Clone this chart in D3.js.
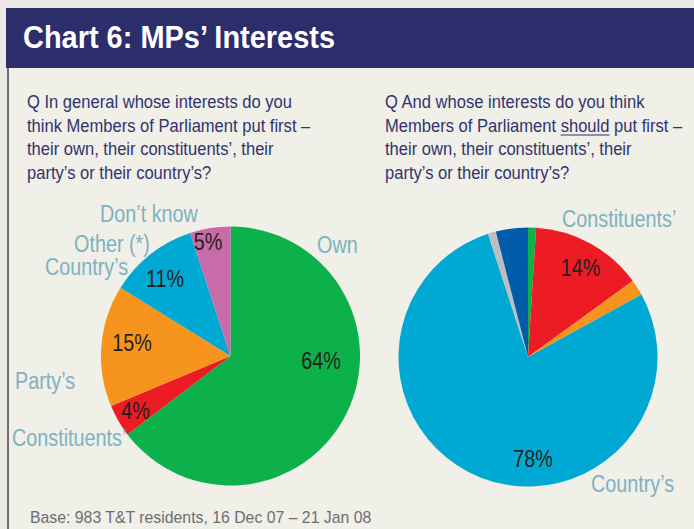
<!DOCTYPE html>
<html>
<head>
<meta charset="utf-8">
<script src="https://cdn.jsdelivr.net/npm/d3@7"></script>
<style>
  html, body { margin: 0; padding: 0; background: #ebeae4; }
  svg { display: block; }
</style>
</head>
<body>
<svg id="chart" width="694" height="529"></svg>
<script>
// ---- data ----
const categories = ["Own", "Constituents\u2019", "Party\u2019s", "Country\u2019s", "Other (*)", "Don\u2019t know"];
const actualValues = [64, 4, 15, 11, 0, 5];   // whose interests MPs put first
const shouldValues = [1, 14, 2, 78, 1, 4];    // whose interests MPs should put first
const actualColors = ["#0db14b", "#ed1c24", "#f7941d", "#00a9d3", "#bcbec0", "#c76ca9"];
const shouldColors = ["#0db14b", "#ed1c24", "#f7941d", "#00a9d3", "#bcbec0", "#005ca9"];
const titleText = "Chart 6: MPs\u2019 Interests";
const questionLeft = [
  "Q In general whose interests do you",
  "think Members of Parliament put first \u2013",
  "their own, their constituents\u2019, their",
  "party\u2019s or their country\u2019s?"
];
const questionRight = [
  "Q And whose interests do you think",
  "Members of Parliament |should| put first \u2013",
  "their own, their constituents\u2019, their",
  "party\u2019s or their country\u2019s?"
];
const baseText = "Base: 983 T&T residents, 16 Dec 07 \u2013 21 Jan 08";

// ---- layout ----
const svg = d3.select("#chart");
const W = 694, H = 529;
const font = "'Liberation Sans', Arial, sans-serif";
const questionColor = "#30336f";
const labelColor = "#7fb1c1";
const pctColor = "#231f20";

// squeeze glyphs horizontally for a condensed look
function condense(sel, k) {
  sel.each(function () {
    const w = this.getComputedTextLength();
    d3.select(this).attr("textLength", w * k).attr("lengthAdjust", "spacingAndGlyphs");
  });
}

// page panel, header band and left rule
svg.append("rect").attr("x", 0).attr("y", 0).attr("width", W).attr("height", H).attr("fill", "#ebeae4");
svg.append("rect").attr("x", 8).attr("y", 68).attr("width", W - 8).attr("height", H - 68).attr("fill", "#f0efe8");
svg.append("rect").attr("x", 6).attr("y", 8).attr("width", W - 6).attr("height", 60).attr("fill", "#2c2e6b");
svg.append("line").attr("x1", 8).attr("x2", 8).attr("y1", 68).attr("y2", H)
  .attr("stroke", "#6e6e6e").attr("stroke-width", 2);

svg.append("text")
  .attr("x", 23).attr("y", 48)
  .attr("font-family", font)
  .attr("font-weight", "bold").attr("font-size", 32)
  .attr("fill", "#ffffff")
  .attr("textLength", 312).attr("lengthAdjust", "spacingAndGlyphs")
  .text(titleText);

// question blocks: each line sits in a horizontally squeezed group;
// the word between bars gets an underline rule
function question(lines, x) {
  lines.forEach((line, i) => {
    const y = 108 + i * 23.5;
    const parts = line.split("|");
    const g = svg.append("g").attr("transform", `translate(${x},${y}) scale(0.895,1)`);
    const t = g.append("text")
      .attr("x", 0).attr("y", 0)
      .attr("font-family", font).attr("font-size", 18.5).attr("fill", questionColor)
      .text(parts.join(""));
    if (parts.length === 3) {
      const node = t.node();
      const a = parts[0].length, b = a + parts[1].length - 1;
      const x0 = node.getStartPositionOfChar(a).x;
      const x1 = node.getEndPositionOfChar(b).x;
      g.append("line")
        .attr("x1", x0).attr("x2", x1).attr("y1", 3.5).attr("y2", 3.5)
        .attr("stroke", questionColor).attr("stroke-width", 1.1);
    }
  });
}
question(questionLeft, 27);
question(questionRight, 385);

svg.append("text")
  .attr("x", 30).attr("y", 523)
  .attr("font-family", font).attr("font-size", 17).attr("fill", "#6d6e71")
  .text(baseText)
  .call(condense, 0.93);

// ---- pies ----
const radius = 129.5;
const pie = d3.pie().sort(null).value(d => d.value);
const arc = d3.arc().innerRadius(0).outerRadius(radius);

function drawPie(values, colors, cx, cy, pctOffsets, catLabels) {
  const data = categories.map((c, i) => ({ category: c, value: values[i], color: colors[i], idx: i }));
  const g = svg.append("g").attr("transform", `translate(${cx},${cy})`);
  g.selectAll("path")
    .data(pie(data).filter(d => d.data.value > 0))
    .join("path")
    .attr("d", arc)
    .attr("fill", d => d.data.color);

  // percentage labels inside slices
  g.selectAll("text.pct")
    .data(data.filter(d => pctOffsets[d.idx]))
    .join("text")
    .attr("class", "pct")
    .attr("x", d => pctOffsets[d.idx][0])
    .attr("y", d => pctOffsets[d.idx][1])
    .attr("text-anchor", "middle")
    .attr("font-family", font).attr("font-size", 23).attr("fill", pctColor)
    .text(d => d.value + "%")
    .call(condense, 0.86);

  // category names around the pie
  svg.selectAll(null)
    .data(data.filter(d => catLabels[d.idx]))
    .join("text")
    .attr("x", d => catLabels[d.idx][0])
    .attr("y", d => catLabels[d.idx][1])
    .attr("font-family", font).attr("font-size", 23).attr("fill", labelColor)
    .text(d => d.category)
    .call(condense, 0.86);
}

drawPie(actualValues, actualColors, 230.5, 356,
  { 0: [90.5, 13], 1: [-95, 63], 2: [-98.5, -5], 3: [-65.5, -69], 5: [-22.5, -106] },
  { 0: [317, 253], 1: [12, 446], 2: [15, 389], 3: [45, 275], 4: [74, 252], 5: [100, 222] });

drawPie(shouldValues, shouldColors, 528, 357,
  { 1: [52.5, -81], 3: [5, 110] },
  { 1: [562, 227], 3: [591, 492] });
</script>
</body>
</html>
